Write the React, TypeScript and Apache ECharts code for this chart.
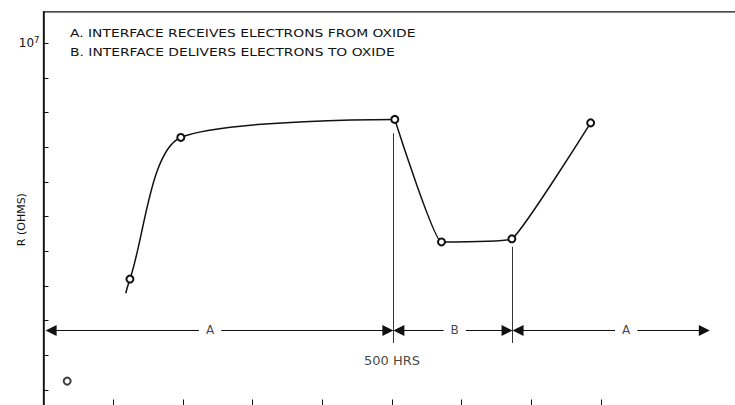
import React, { useEffect, useRef } from "react";
import * as echarts from "echarts";

// ---- data (hours on x, resistance in units of 10^6 ohms on y) ----
const curveStart = [118, 2.79];
const measuredHours = [124, 197, 504, 571, 672, 785];
const measuredR = [3.2, 7.28, 7.8, 4.27, 4.36, 7.7];
const strayHours = [34];
const strayR = [0.26];

const xTicks = [100, 200, 300, 400, 500, 600, 700, 800];
const yTicks = [0, 1, 2, 3, 4, 5, 6, 7, 8, 9, 10];
const yLabelTick = 10;

const regionLabels = ["A", "B", "A"];
const regionStart = [3, 502, 673];
const regionEnd = [502, 673, 956];
const regionLabelAt = [239, 590, 836];
const arrowLevel = 1.72;

const dividerHours = [502, 673];
const dividerTop = [7.4, 4.13];
const dividerBottom = 1.36;

const markerText = "500 HRS";
const markerHours = 500;
const markerLevel = 0.84;

const legendLines = [
  "A. INTERFACE RECEIVES ELECTRONS FROM OXIDE",
  "B. INTERFACE DELIVERS ELECTRONS TO OXIDE",
];

const INK = "#111";
const FONT = "DejaVu Sans";

export default function App() {
  const ref = useRef<HTMLDivElement>(null);

  useEffect(() => {
    if (!ref.current) return;
    const chart = echarts.init(ref.current, undefined, { renderer: "svg" });

    const pts = measuredHours.map((h, i) => [h, measuredR[i]]);
    // rising part (start of trace up to the 500-hour peak) and the rest
    const peakIdx = 2;
    const partOne: any[] = [{ value: curveStart, symbol: "none" }, ...pts.slice(0, peakIdx + 1)];
    const partTwo: any[] = [{ value: pts[peakIdx], symbol: "none" }, ...pts.slice(peakIdx + 1)];

    const halfGap = 16; // hours of blank line either side of a label
    const tipInset = 7.9; // half the arrow head length, in hours
    const arrowSegs: any[] = [];
    regionLabels.forEach((_, i) => {
      arrowSegs.push({ coords: [[regionLabelAt[i] - halfGap, arrowLevel], [regionStart[i] + tipInset, arrowLevel]] });
      arrowSegs.push({ coords: [[regionLabelAt[i] + halfGap, arrowLevel], [regionEnd[i] - tipInset, arrowLevel]] });
    });

    const dividerSegs = dividerHours.map((h, i) => ({
      coords: [[h, dividerTop[i]], [h, dividerBottom]],
    }));

    const textPoints: any[] = regionLabels.map((t, i) => ({
      name: t,
      value: [regionLabelAt[i], arrowLevel],
      label: { fontSize: 12 },
    }));
    textPoints.push({ name: markerText, value: [markerHours, markerLevel], label: { fontSize: 13 } });

    const curveStyle = {
      type: "line",
      symbol: "emptyCircle",
      symbolSize: 7,
      showSymbol: true,
      lineStyle: { color: INK, width: 1.5 },
      itemStyle: { color: INK, borderColor: INK, borderWidth: 1.3 },
      z: 5,
    };

    const option: any = {
      animation: false,
      backgroundColor: "#fff",
      grid: {
        left: 43.5,
        top: 11.8,
        width: 697,
        height: 395.7,
        containLabel: false,
        outerBoundsMode: "none",
        show: true,
        borderColor: INK,
        borderWidth: 1.3,
        backgroundColor: "transparent",
      },
      xAxis: {
        type: "value",
        min: 0,
        max: 1000,
        axisLine: { show: true, onZero: false, lineStyle: { color: INK, width: 1.3 } },
        axisTick: { show: true, inside: true, length: 8, customValues: xTicks, lineStyle: { color: INK, width: 1 } },
        axisLabel: { show: false },
        splitLine: { show: false },
      },
      yAxis: {
        type: "value",
        min: -0.5,
        max: 10.9,
        name: "R (OHMS)",
        nameLocation: "middle",
        nameRotate: 90,
        nameGap: 17,
        nameMoveOverlap: false,
        nameTextStyle: { color: INK, fontFamily: FONT, fontSize: 11, padding: [0, 20, 0, 0] },
        axisLine: { show: true, onZero: false, lineStyle: { color: INK, width: 1.5 } },
        axisTick: { show: true, inside: true, length: 5, customValues: yTicks, lineStyle: { color: INK, width: 1 } },
        axisLabel: {
          show: true,
          customValues: [yLabelTick],
          margin: 4,
          formatter: (v: number) => (v === yLabelTick ? "{a|10}{b|7}" : ""),
          rich: {
            a: { fontFamily: FONT, fontSize: 12, color: INK },
            b: { fontFamily: FONT, fontSize: 8.5, color: INK, padding: [0, 0, 7, 0] },
          },
        },
        splitLine: { show: false },
      },
      series: [
        {
          type: "lines",
          coordinateSystem: "cartesian2d",
          data: dividerSegs,
          symbol: ["none", "none"],
          lineStyle: { color: "#333", width: 1, opacity: 1 },
          silent: true,
          z: 2,
        },
        {
          type: "lines",
          coordinateSystem: "cartesian2d",
          data: arrowSegs,
          symbol: ["none", "triangle"],
          symbolSize: [7, 11],
          lineStyle: { color: INK, width: 1.2, opacity: 1 },
          itemStyle: { color: INK },
          silent: true,
          z: 3,
        },
        { ...curveStyle, data: partOne, smooth: 0.28 },
        { ...curveStyle, data: partTwo, smooth: 0.1 },
        {
          type: "scatter",
          data: strayHours.map((h, i) => [h, strayR[i]]),
          symbol: "emptyCircle",
          symbolSize: 7,
          itemStyle: { color: INK, borderColor: INK, borderWidth: 1.3 },
          z: 5,
        },
        {
          type: "scatter",
          data: textPoints,
          symbolSize: 1,
          itemStyle: { color: "rgba(0,0,0,0)" },
          label: {
            show: true,
            position: "inside",
            formatter: (p: any) => p.name,
            color: INK,
            fontFamily: FONT,
          },
          z: 6,
        },
      ],
      graphic: legendLines.map((t, i) => ({
        type: "text",
        x: 70,
        y: 33.3 + i * 19.4,
        scaleX: 1.32,
        style: {
          text: t,
          fontFamily: FONT,
          fontSize: 10.5,
          fill: INK,
          align: "left",
          verticalAlign: "middle",
        },
      })),
    };

    chart.setOption(option);
    return () => chart.dispose();
  }, []);

  return (
    <div
      style={{
        position: "fixed",
        left: 0,
        top: 0,
        width: 735,
        height: 405,
        overflow: "hidden",
        background: "#fff",
      }}
    >
      <div ref={ref} style={{ width: 760, height: 420 }} />
    </div>
  );
}
